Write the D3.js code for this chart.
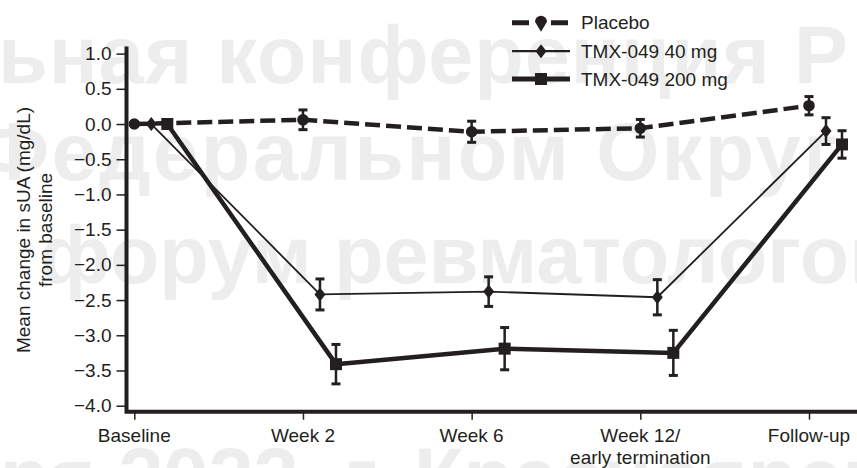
<!DOCTYPE html>
<html>
<head>
<meta charset="utf-8">
<script src="https://cdn.jsdelivr.net/npm/d3@7"></script>
<style>
  body { margin: 0; background: #fff; }
  svg { display: block; font-family: 'Liberation Sans', Arial, sans-serif; }
</style>
</head>
<body>
<div id="chart"></div>
<script>
// time points
const categories = ['Baseline', 'Week 2', 'Week 6', 'Week 12/\nearly termination', 'Follow-up'];

// mean change in sUA and error bar half-widths
const placeboMean = [0, 0.06, -0.11, -0.06, 0.26];
const placeboErr = [0, 0.14, 0.15, 0.125, 0.13];
const mg40Mean = [0, -2.42, -2.38, -2.46, -0.1];
const mg40Err = [0, 0.22, 0.21, 0.25, 0.19];
const mg200Mean = [0, -3.41, -3.19, -3.25, -0.29];
const mg200Err = [0, 0.28, 0.3, 0.32, 0.195];

const yTicks = [1, 0.5, 0, -0.5, -1, -1.5, -2, -2.5, -3, -3.5, -4];
const seriesNames = ['Placebo', 'TMX-049 40 mg', 'TMX-049 200 mg'];

const watermark = ['ьная конференция Р', 'Федеральном Округ', 'форум ревматологов', 'ря 2022  г. Красноярск'];

class DoseChart {

  constructor(config) {
    this.config = config;
    this.ink = '#231f20';
  }

  init() {
    this.svg = d3.select(`#${this.config.htmlAnchorID}`)
        .append('svg')
        .attr('width', this.config.width)
        .attr('height', this.config.height);
    this.drawWatermark();
    this.createScales();
    this.drawAxes();
    this.drawSeries();
    this.drawLegend();
  }

  drawWatermark() {
    // x, baseline, letter spacing
    const pos = [[-2, 83, 1], [-20, 180, 2.5], [40, 283, 0], [0, 505, 0]];
    this.svg.append('g')
        .selectAll('text')
        .data(watermark)
        .join('text')
        .attr('x', (d, i) => pos[i][0])
        .attr('y', (d, i) => pos[i][1])
        .attr('letter-spacing', (d, i) => pos[i][2])
        .attr('font-size', 81)
        .attr('font-weight', 'bold')
        .attr('fill', '#ededed')
        .style('white-space', 'pre')
        .text((d) => d);
  }

  createScales() {
    this.x = d3.scalePoint()
        .domain(categories)
        .range([134.3, 809]);
    this.y = d3.scaleLinear()
        .domain([-4, 1])
        .range([405.7, 53.6]);
  }

  drawAxes() {
    const svg = this.svg;
    const ink = this.ink;

    // y axis
    const yAxis = svg.append('g')
        .attr('transform', 'translate(126.5,0)')
        .call(d3.axisLeft(this.y)
            .tickValues(yTicks)
            .tickFormat(d3.format('.1f'))
            .tickSize(10)
            .tickPadding(5));
    yAxis.select('.domain').remove();
    yAxis.selectAll('line').attr('stroke', ink).attr('stroke-width', 1.5);
    yAxis.selectAll('text')
        .attr('font-size', 19)
        .attr('fill', ink)
        .attr('font-family', null);

    // x axis
    const xAxis = svg.append('g')
        .attr('transform', 'translate(0,411.7)')
        .call(d3.axisBottom(this.x).tickSize(8).tickFormat(''));
    xAxis.select('.domain').remove();
    xAxis.selectAll('line').attr('stroke', ink).attr('stroke-width', 1.5);

    const labels = svg.append('g')
        .selectAll('text')
        .data(categories)
        .join('text')
        .attr('x', (d) => this.x(d))
        .attr('y', 442)
        .attr('text-anchor', 'middle')
        .attr('font-size', 19)
        .attr('fill', ink);
    labels.selectAll('tspan')
        .data((d) => d.split('\n'))
        .join('tspan')
        .attr('x', function () { return this.parentNode.getAttribute('x'); })
        .attr('dy', (d, i) => i ? 21.5 : 0)
        .text((d) => d);

    // frame lines
    svg.append('path')
        .attr('d', 'M126.5,46.5V411.7H857')
        .attr('fill', 'none')
        .attr('stroke', ink)
        .attr('stroke-width', 4);

    // y title
    const title = svg.append('text')
        .attr('transform', 'translate(23,230) rotate(-90)')
        .attr('text-anchor', 'middle')
        .attr('font-size', 19)
        .attr('fill', ink);
    title.append('tspan').attr('x', 0).attr('dy', '0.35em').text('Mean change in sUA (mg/dL)');
    title.append('tspan').attr('x', 0).attr('dy', 22).text('from baseline');
  }

  seriesData() {
    const build = (mean, err) => categories.map((c, i) => ({ c: c, v: mean[i], e: err[i] }));
    return [
      { name: seriesNames[0], pts: build(placeboMean, placeboErr), dx: 0, width: 4.5, dash: '15,6', marker: 'circle' },
      { name: seriesNames[1], pts: build(mg40Mean, mg40Err), dx: 17, width: 1.8, dash: null, marker: 'diamond' },
      { name: seriesNames[2], pts: build(mg200Mean, mg200Err), dx: 33, width: 4.5, dash: null, marker: 'square' }
    ];
  }

  markerPath(type) {
    if (type === 'circle') return d3.symbol(d3.symbolCircle, 105)();
    if (type === 'diamond') return 'M0,-7L5.5,0L0,7L-5.5,0Z';
    return 'M-6,-6H6V6H-6Z';
  }

  drawSeries() {
    const ink = this.ink;
    const series = this.seriesData();

    series.forEach((s) => {
      const g = this.svg.append('g');
      const px = (d) => this.x(d.c) + s.dx;

      g.append('path')
          .datum(s.pts)
          .attr('fill', 'none')
          .attr('stroke', ink)
          .attr('stroke-width', s.width)
          .attr('stroke-dasharray', s.dash)
          .attr('stroke-linejoin', 'round')
          .attr('d', d3.line().x(px).y((d) => this.y(d.v)));

      const bars = g.selectAll('.err')
          .data(s.pts.filter((d) => d.e > 0))
          .join('g')
          .attr('class', 'err')
          .attr('stroke', ink);
      bars.append('line')
          .attr('x1', px).attr('x2', px)
          .attr('y1', (d) => this.y(d.v + d.e))
          .attr('y2', (d) => this.y(d.v - d.e))
          .attr('stroke-width', 2.5);
      [1, -1].forEach((sign) => {
        bars.append('line')
            .attr('x1', (d) => px(d) - 4.5).attr('x2', (d) => px(d) + 4.5)
            .attr('y1', (d) => this.y(d.v + sign * d.e))
            .attr('y2', (d) => this.y(d.v + sign * d.e))
            .attr('stroke-width', 3);
      });

      g.selectAll('.mark')
          .data(s.pts)
          .join('path')
          .attr('class', 'mark')
          .attr('transform', (d) => `translate(${px(d)},${this.y(d.v)})`)
          .attr('d', this.markerPath(s.marker))
          .attr('fill', ink);
    });
  }

  drawLegend() {
    const ink = this.ink;
    const series = this.seriesData();
    const rowY = [22.7, 51.2, 79];

    const row = this.svg.append('g')
        .selectAll('g')
        .data(series)
        .join('g')
        .attr('transform', (d, i) => `translate(0,${rowY[i]})`);

    row.append('line')
        .attr('x1', 512).attr('x2', 570)
        .attr('stroke', ink)
        .attr('stroke-width', (d) => d.width + 0.5)
        .attr('stroke-dasharray', (d) => d.dash ? '17,22,17' : null);

    row.append('path')
        .attr('transform', 'translate(541,0)')
        .attr('d', (d) => d.marker === 'circle'
          ? 'M-6,-1A6,6 0 1 1 6,-1L0,9Z'
          : this.markerPath(d.marker))
        .attr('fill', ink);

    row.append('text')
        .attr('x', 581)
        .attr('dy', '0.35em')
        .attr('font-size', 19)
        .attr('fill', ink)
        .text((d) => d.name);
  }

}

new DoseChart({ htmlAnchorID: 'chart', width: 857, height: 468 }).init();
</script>
</body>
</html>
